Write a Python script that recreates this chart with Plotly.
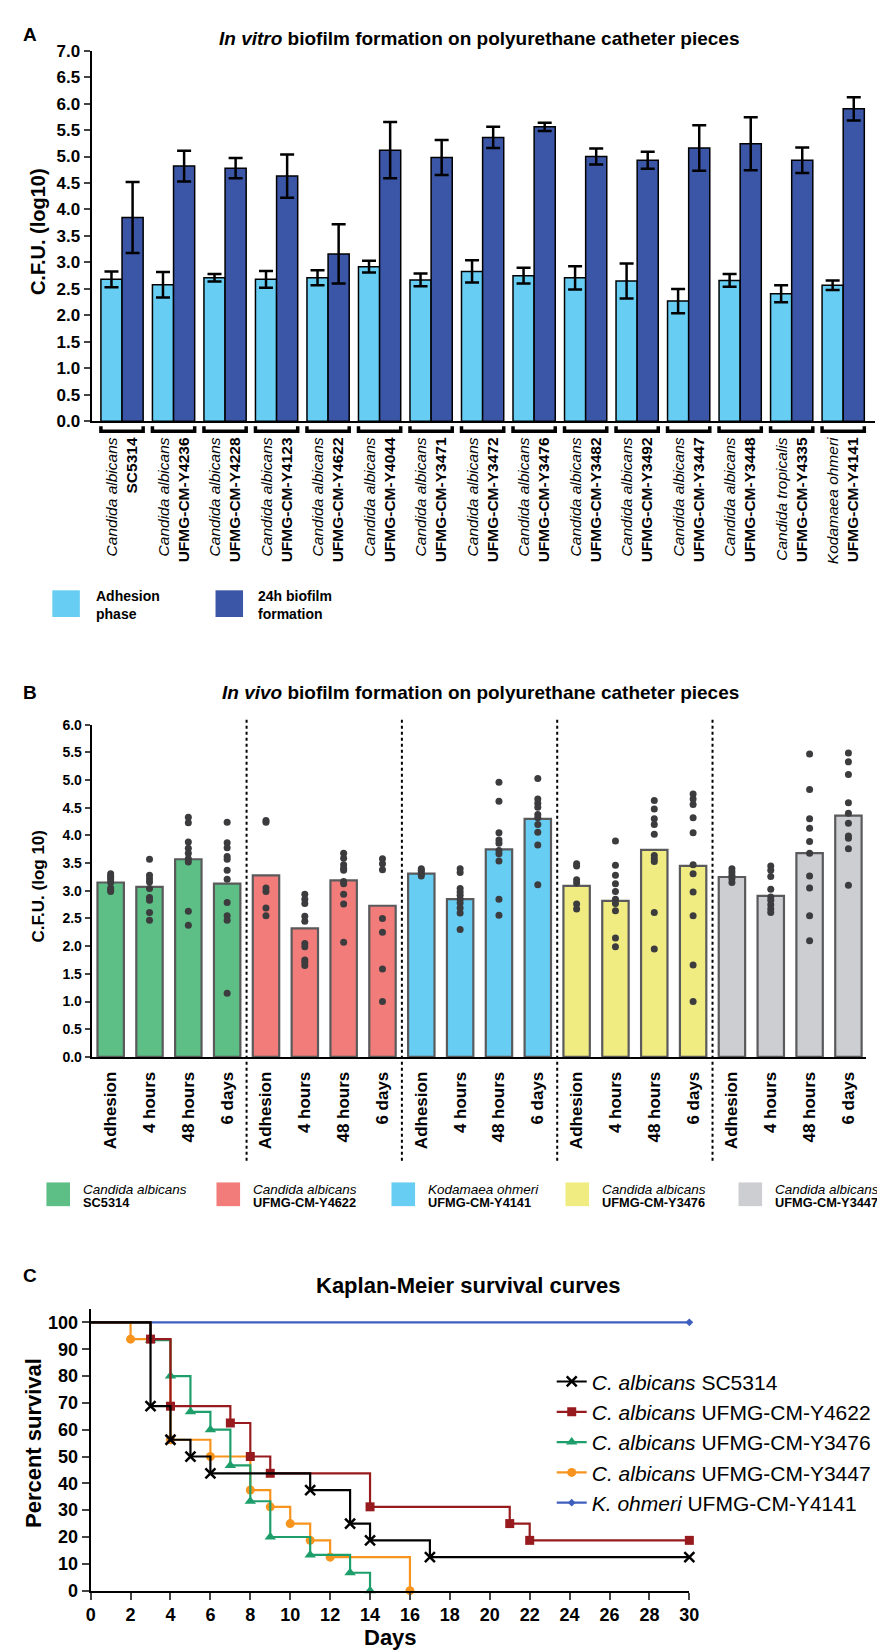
import plotly.graph_objects as go

W, H = 885, 1650
FONT = "Liberation Sans, Arial, sans-serif"


def px_x(p):
    return p / W


def px_y(p):
    return 1 - p / H


# ---------------- Panel A data ----------------
a_species = ["Candida albicans"] * 13 + ["Candida tropicalis", "Kodamaea ohmeri"]
a_strains = ["SC5314", "UFMG-CM-Y4236", "UFMG-CM-Y4228", "UFMG-CM-Y4123", "UFMG-CM-Y4622",
             "UFMG-CM-Y4044", "UFMG-CM-Y3471", "UFMG-CM-Y3472", "UFMG-CM-Y3476", "UFMG-CM-Y3482",
             "UFMG-CM-Y3492", "UFMG-CM-Y3447", "UFMG-CM-Y3448", "UFMG-CM-Y4335", "UFMG-CM-Y4141"]
adh_mean = [2.68, 2.58, 2.71, 2.68, 2.71, 2.92, 2.67, 2.83, 2.75, 2.71, 2.65, 2.27, 2.66, 2.41, 2.57]
adh_err = [0.15, 0.24, 0.07, 0.16, 0.14, 0.11, 0.12, 0.21, 0.15, 0.22, 0.33, 0.23, 0.12, 0.16, 0.09]
bio_mean = [3.85, 4.82, 4.78, 4.63, 3.16, 5.12, 4.98, 5.36, 5.56, 5.00, 4.93, 5.16, 5.24, 4.93, 5.90]
bio_err = [0.67, 0.29, 0.19, 0.41, 0.56, 0.53, 0.33, 0.20, 0.08, 0.15, 0.16, 0.43, 0.50, 0.24, 0.22]
a_series = ["Adhesion<br>phase", "24h biofilm<br>formation"]
a_colors = ["#67CDF3", "#3B56A6"]

# ---------------- Panel B data ----------------
b_timepoints = ["Adhesion", "4 hours", "48 hours", "6 days"]
b_species = ["Candida albicans", "Candida albicans", "Kodamaea ohmeri", "Candida albicans", "Candida albicans"]
b_strains = ["SC5314", "UFMG-CM-Y4622", "UFMG-CM-Y4141", "UFMG-CM-Y3476", "UFMG-CM-Y3447"]
b_colors = ["#5DBF86", "#F27C79", "#67CDF3", "#F0EC82", "#CDCED1"]

b_mean_sc5314 = [3.15, 3.07, 3.57, 3.13]
b_mean_y4622 = [3.28, 2.32, 3.19, 2.73]
b_mean_y4141 = [3.31, 2.85, 3.75, 4.30]
b_mean_y3476 = [3.09, 2.82, 3.74, 3.45]
b_mean_y3447 = [3.25, 2.91, 3.68, 4.36]

b_pts_sc5314 = [
    [3.31, 3.27, 3.24, 3.20, 3.15, 3.05, 3.02, 2.99],
    [3.57, 3.28, 3.22, 3.16, 3.04, 2.88, 2.83, 2.61, 2.47],
    [4.33, 4.23, 3.88, 3.77, 3.68, 3.58, 3.52, 2.63, 2.38],
    [4.24, 3.87, 3.78, 3.62, 3.57, 3.37, 3.21, 2.79, 2.55, 2.47, 1.15],
]
b_pts_y4622 = [
    [4.27, 4.24, 3.05, 2.99, 2.69, 2.55],
    [2.94, 2.85, 2.77, 2.54, 2.45, 2.05, 1.99, 1.75, 1.71, 1.65],
    [3.68, 3.59, 3.47, 3.41, 3.37, 3.17, 3.13, 2.94, 2.76, 2.07],
    [3.58, 3.49, 3.38, 2.50, 2.25, 1.59, 1.00],
]
b_pts_y4141 = [
    [3.40, 3.37, 3.34, 3.30, 3.27],
    [3.40, 3.33, 3.04, 2.98, 2.92, 2.85, 2.78, 2.69, 2.60, 2.30],
    [4.96, 4.62, 4.05, 3.92, 3.86, 3.73, 3.67, 3.54, 2.85, 2.56],
    [5.03, 4.66, 4.58, 4.51, 4.38, 4.32, 4.20, 4.06, 3.83, 3.11],
]
b_pts_y3476 = [
    [3.49, 3.45, 3.20, 3.14, 2.76, 2.67],
    [3.90, 3.46, 3.28, 3.13, 2.99, 2.85, 2.77, 2.64, 2.15, 1.99],
    [4.63, 4.48, 4.30, 4.20, 4.02, 3.64, 3.58, 3.53, 2.61, 1.95],
    [4.75, 4.66, 4.56, 4.32, 4.05, 3.47, 3.31, 2.98, 2.55, 1.66, 1.00],
]
b_pts_y3447 = [
    [3.40, 3.34, 3.28, 3.22, 3.15],
    [3.45, 3.37, 3.26, 3.03, 2.89, 2.83, 2.75, 2.67, 2.61],
    [5.47, 4.83, 4.30, 4.13, 3.89, 3.68, 3.27, 3.05, 2.55, 2.10],
    [5.49, 5.33, 5.10, 4.59, 4.40, 4.22, 3.99, 3.95, 3.76, 3.10],
]
b_means = [b_mean_sc5314, b_mean_y4622, b_mean_y4141, b_mean_y3476, b_mean_y3447]
b_points = [b_pts_sc5314, b_pts_y4622, b_pts_y4141, b_pts_y3476, b_pts_y3447]

# ---------------- Panel C data ----------------
km_names = ["<i>C. albicans</i> SC5314", "<i>C. albicans</i> UFMG-CM-Y4622",
            "<i>C. albicans</i> UFMG-CM-Y3476", "<i>C. albicans</i> UFMG-CM-Y3447",
            "<i>K. ohmeri</i> UFMG-CM-Y4141"]
km_days_sc5314 = [0, 3, 4, 5, 6, 11, 13, 14, 17, 30]
km_surv_sc5314 = [100, 68.75, 56.25, 50, 43.75, 37.5, 25, 18.75, 12.5, 12.5]
km_days_y4622 = [0, 3, 4, 7, 8, 9, 14, 21, 22, 30]
km_surv_y4622 = [100, 93.75, 68.75, 62.5, 50, 43.75, 31.25, 25, 18.75, 18.75]
km_days_y3476 = [0, 3, 4, 5, 6, 7, 8, 9, 11, 13, 14]
km_surv_y3476 = [100, 93.33, 80, 66.67, 60, 46.67, 33.33, 20, 13.33, 6.67, 0]
km_days_y3447 = [0, 2, 4, 6, 8, 9, 10, 11, 12, 16]
km_surv_y3447 = [100, 93.75, 56.25, 50, 37.5, 31.25, 25, 18.75, 12.5, 0]
km_days_y4141 = [0, 30]
km_surv_y4141 = [100, 100]
km_days = [km_days_sc5314, km_days_y4622, km_days_y3476, km_days_y3447, km_days_y4141]
km_surv = [km_surv_sc5314, km_surv_y4622, km_surv_y3476, km_surv_y3447, km_surv_y4141]
km_colors = ["#000000", "#971B1E", "#1E9E6B", "#F7941D", "#3F5FBF"]
km_symbols = ["x-thin", "square", "triangle-up", "circle", "diamond"]
km_sizes = [10, 9, 10, 9, 6]

fig = go.Figure()

# ---------------- Panel A traces ----------------
A_W = 0.41
a_x = list(range(len(a_strains)))
fig.add_trace(go.Bar(
    x=a_x, y=adh_mean, width=A_W, offset=-A_W, marker=dict(color=a_colors[0], line=dict(color="black", width=1.5)),
    error_y=dict(type="data", array=adh_err, color="black", thickness=2.5, width=7),
    xaxis="x", yaxis="y", showlegend=False))
fig.add_trace(go.Bar(
    x=a_x, y=bio_mean, width=A_W, offset=0, marker=dict(color=a_colors[1], line=dict(color="black", width=1.5)),
    error_y=dict(type="data", array=bio_err, color="black", thickness=2.5, width=7),
    xaxis="x", yaxis="y", showlegend=False))

# ---------------- Panel B traces ----------------
nt = len(b_timepoints)
for g, (means, pts, col) in enumerate(zip(b_means, b_points, b_colors)):
    xs = [g * nt + t for t in range(nt)]
    fig.add_trace(go.Bar(x=xs, y=means, width=0.68, marker=dict(color=col, line=dict(color="#5A5A5C", width=2.2)),
                         xaxis="x2", yaxis="y2", showlegend=False))
    dx, dy = [], []
    for t, vals in enumerate(pts):
        dx += [g * nt + t] * len(vals)
        dy += vals
    fig.add_trace(go.Scatter(x=dx, y=dy, mode="markers", marker=dict(color="#3C3C3F", size=7),
                             xaxis="x2", yaxis="y2", showlegend=False, cliponaxis=False))

# ---------------- Panel C traces ----------------
for i in [4, 3, 2, 1, 0]:
    fig.add_trace(go.Scatter(x=km_days[i], y=km_surv[i], mode="lines", line=dict(color=km_colors[i], width=2.2, shape="hv"),
                             xaxis="x3", yaxis="y3", showlegend=False, cliponaxis=False))
    fig.add_trace(go.Scatter(x=km_days[i][1:], y=km_surv[i][1:], mode="markers",
                             marker=dict(color=km_colors[i], symbol=km_symbols[i], size=km_sizes[i],
                                         line=dict(color=km_colors[i], width=2.5 if i == 0 else 0)),
                             xaxis="x3", yaxis="y3", showlegend=False, cliponaxis=False))
for i in range(5):
    fig.add_trace(go.Scatter(x=[None], y=[None], mode="lines+markers", name=km_names[i],
                             line=dict(color=km_colors[i], width=2.2),
                             marker=dict(color=km_colors[i], symbol=km_symbols[i], size=km_sizes[i],
                                         line=dict(color=km_colors[i], width=2.5 if i == 0 else 0)),
                             xaxis="x3", yaxis="y3", showlegend=True))

# ---------------- Axes ----------------
axis_common = dict(showgrid=False, zeroline=False, showline=True, linecolor="black", linewidth=2)
a_ticktext = [f"<i>{s}</i><br><b>{st}</b>" for s, st in zip(a_species, a_strains)]
b_tickvals = list(range(len(b_strains) * nt))
b_ticktext = b_timepoints * len(b_strains)

fig.update_layout(
    width=W, height=H, margin=dict(l=0, r=0, t=0, b=0),
    paper_bgcolor="white", plot_bgcolor="white", barmode="overlay",
    font=dict(family=FONT, color="black"),
    xaxis=dict(domain=[px_x(80), px_x(877)], range=[-0.59, 14.62], tickvals=a_x, ticktext=a_ticktext,
               tickangle=-90, ticks="outside", ticklen=8, tickcolor="rgba(0,0,0,0)",
               tickfont=dict(size=15.5, family=FONT), anchor="y", **axis_common),
    yaxis=dict(domain=[px_y(409), px_y(34)], range=[0, 7], dtick=0.5, tickformat=".1f",
               ticks="outside", ticklen=6, tickwidth=2, tickfont=dict(size=17, family=FONT, weight="bold"),
               anchor="x", **axis_common),
    xaxis2=dict(domain=[px_x(80), px_x(868)], range=[-0.49, 19.46], tickvals=b_tickvals, ticktext=b_ticktext,
                tickangle=-90, ticks="outside", ticklen=6, tickcolor="rgba(0,0,0,0)",
                tickfont=dict(size=17, family=FONT, weight="bold"), anchor="y2", **axis_common),
    yaxis2=dict(domain=[px_y(1052), px_y(716)], range=[0, 6], dtick=0.5, tickformat=".1f",
                ticks="outside", ticklen=5, tickwidth=2, tickfont=dict(size=14, family=FONT, weight="bold"),
                anchor="x2", **axis_common),
    xaxis3=dict(domain=[px_x(79), px_x(688)], range=[0, 30], dtick=2, ticks="outside", ticklen=7, tickwidth=2,
                tickfont=dict(size=18, family=FONT, weight="bold"), anchor="y3", **axis_common),
    yaxis3=dict(domain=[px_y(1592), px_y(1307)], range=[0, 105], tickvals=list(range(0, 101, 10)),
                ticks="outside", ticklen=7, tickwidth=2, tickfont=dict(size=18, family=FONT, weight="bold"),
                anchor="x3", **axis_common),
    legend=dict(x=px_x(548), y=px_y(1360), xanchor="left", yanchor="top", bgcolor="rgba(0,0,0,0)",
                font=dict(size=21, family=FONT), tracegroupgap=0, itemwidth=30),
)

# ---------------- Shapes: brackets (A), separators (B), legend swatches ----------------
shapes = []
for i in a_x:
    x0, x1 = i - A_W, i + A_W
    shapes.append(dict(type="path", xref="x", yref="paper",
                       path=f"M {x0},{px_y(414)} L {x0},{px_y(419)} L {x1},{px_y(419)} L {x1},{px_y(414)}",
                       line=dict(color="black", width=3.5)))
for g in range(1, len(b_strains)):
    xs = g * nt - 0.5
    shapes.append(dict(type="line", xref="x2", yref="paper", x0=xs, x1=xs, y0=px_y(1157), y1=px_y(708),
                       line=dict(color="black", width=2, dash="dot")))

annotations = []
# Legend A
for (sx0, tx), col, txt in zip([(40, 82), (206, 247)], a_colors, a_series):
    shapes.append(dict(type="rect", xref="paper", yref="paper", x0=px_x(sx0), x1=px_x(sx0 + 28),
                       y0=px_y(607), y1=px_y(580), fillcolor=col, line=dict(width=0)))
    annotations.append(dict(x=px_x(tx), y=px_y(595), xref="paper", yref="paper", xanchor="left", yanchor="middle",
                            text=f"<b>{txt}</b>", showarrow=False, align="left", font=dict(size=14, family=FONT)))
# Legend B
for (sx0, tx), col, sp, st in zip([(34, 70), (207, 243), (385, 421), (562, 598), (738, 774)], b_colors, b_species, b_strains):
    shapes.append(dict(type="rect", xref="paper", yref="paper", x0=px_x(sx0), x1=px_x(sx0 + 24),
                       y0=px_y(1203), y1=px_y(1179), fillcolor=col, line=dict(width=0)))
    annotations.append(dict(x=px_x(tx), y=px_y(1186), xref="paper", yref="paper", xanchor="left", yanchor="middle",
                            text=f"<i>{sp}</i>", showarrow=False, borderpad=0, font=dict(size=13.5, family=FONT)))
    annotations.append(dict(x=px_x(tx), y=px_y(1199), xref="paper", yref="paper", xanchor="left", yanchor="middle",
                            text=f"<b>{st}</b>", showarrow=False, borderpad=0, font=dict(size=12.8, family=FONT)))

# Titles and labels
def ann(x, y, text, size, angle=0, anchor="center"):
    annotations.append(dict(x=px_x(x), y=px_y(y), xref="paper", yref="paper", text=text, showarrow=False,
                            xanchor=anchor, yanchor="middle", textangle=angle, font=dict(size=size, family=FONT)))

ann(17, 18, "<b>A</b>", 19)
ann(17, 683, "<b>B</b>", 19)
ann(17, 1273, "<b>C</b>", 19)
ann(474, 22, "<b><i>In vitro</i> biofilm formation on polyurethane catheter pieces</b>", 19)
ann(476, 683, "<b><i>In vivo</i> biofilm formation on polyurethane catheter pieces</b>", 19)
ann(463, 1283, "<b>Kaplan-Meier survival curves</b>", 22)
ann(25, 217, "<b>C.F.U. (log10)</b>", 20, angle=-90)
ann(26, 880, "<b>C.F.U. (log 10)</b>", 17, angle=-90)
ann(21, 1443, "<b>Percent survival</b>", 22, angle=-90)
ann(384, 1639, "<b>Days</b>", 22)

fig.update_layout(shapes=shapes, annotations=annotations)
fig.write_html("out.html")
